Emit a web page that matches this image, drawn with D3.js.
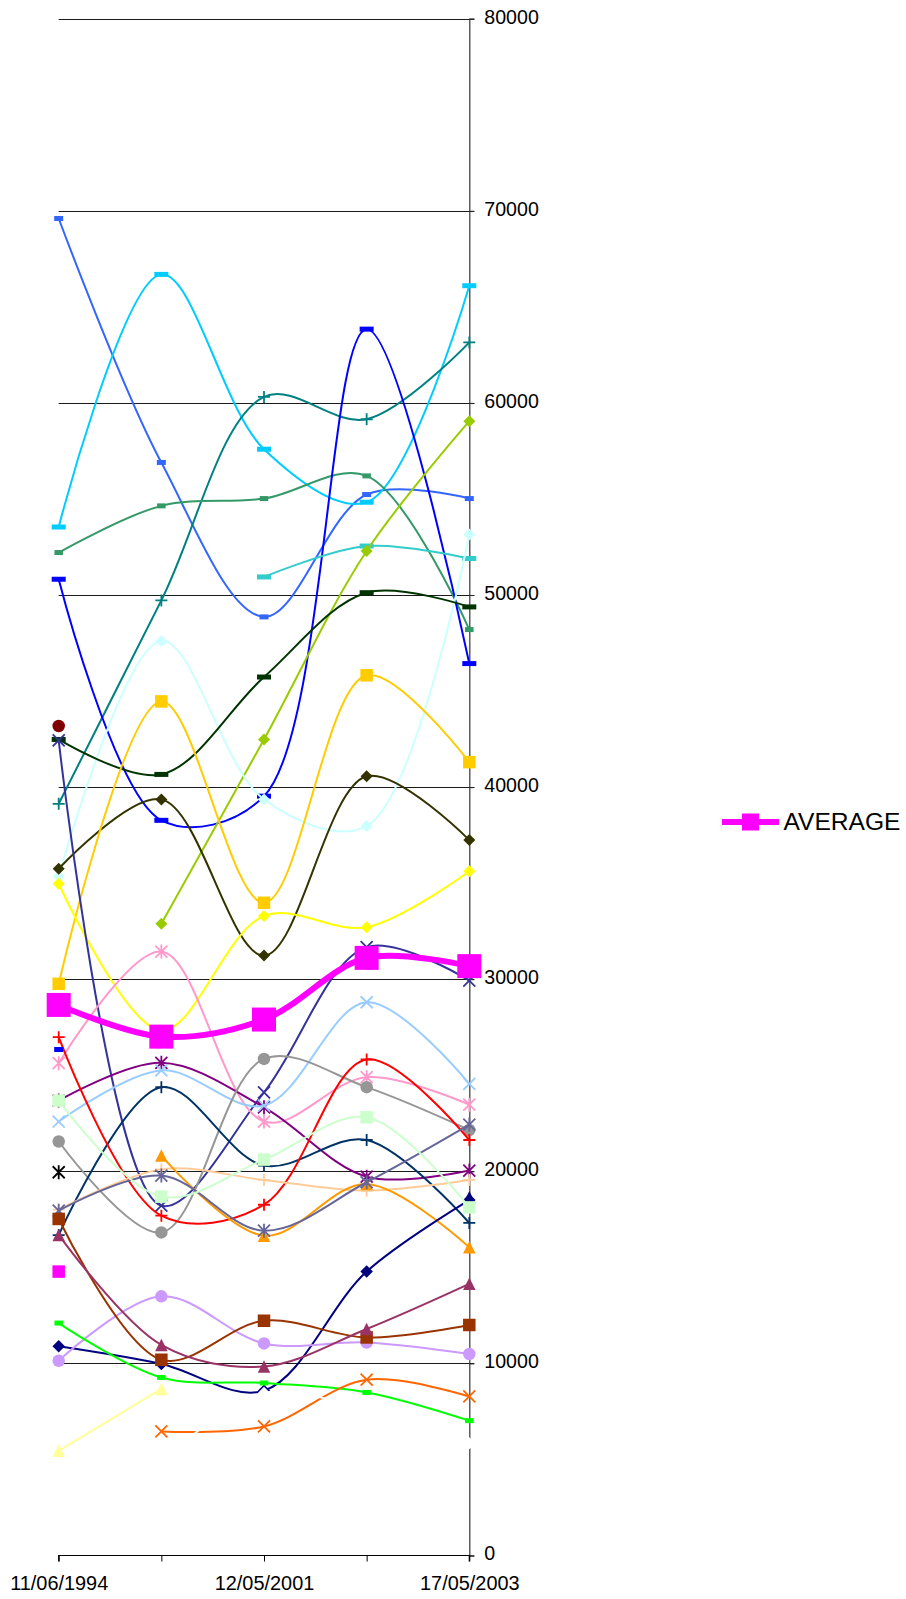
<!DOCTYPE html>
<html>
<head>
<meta charset="utf-8">
<script src="https://cdn.jsdelivr.net/npm/d3@7"></script>
<style>
  html, body { margin: 0; padding: 0; background: #fff; }
  svg { display: block; }
  text { font-family: "Liberation Sans", Arial, Helvetica, sans-serif; fill: #000; }
</style>
</head>
<body>
<svg id="chart" width="906" height="1599"></svg>
<script>
// ---- data -------------------------------------------------------------
// five polling dates; only every second one carries a label
const categories = [0, 1, 2, 3, 4];
const tickLabels = ["11/06/1994", "", "12/05/2001", "", "17/05/2003"];
const valueTicks = [0, 10000, 20000, 30000, 40000, 50000, 60000, 70000, 80000];

const royalBlue   = [69600, 56900, 48860, 55230, 55020];
const skyCyan     = [53540, 66690, 57590, 54830, 66100];
const tealPlus    = [39130, 49720, 60310, 59150, 63150];
const seaGreen    = [52210, 54640, 55020, 56200, 48200];
const pureBlue    = [50820, 38270, 39530, 63840, 46430];
const turquoise   = [null, null, 50940, 52550, 51900];
const limeDiamond = [null, 32890, 42480, 52290, 59050];
const paleCyan    = [35350, 47600, 39360, 37970, 53150];
const forestDash  = [42480, 40660, 45730, 50120, 49380];
const oliveDiamond= [35750, 39360, 31230, 40560, 37240];
const goldSquare  = [29760, 44460, 33980, 45820, 41300];
const yellowDiamond=[34970, 27330, 33290, 32710, 35620];
const maroonDot   = [43180, null, null, null, null];
const indigoCross = [42430, 18210, 24110, 31670, 29930];
const pinkStar    = [25630, 31440, 22590, 24900, 23470];
const purpleStar  = [23680, 25650, 23330, 19720, 20040];
const paleBlueX   = [22590, 25250, 23420, 28800, 24550];
const greyDot     = [21550, 16820, 25850, 24380, 22150];
const deepNavyPlus= [16680, 24380, 20300, 21630, 17310];
const redPlus     = [26980, 17690, 18260, 25820, 21630];
const blueSingle  = [26340, null, null, null, null];
const blackStar   = [19950, null, null, null, null];
const peachPlus   = [18000, 20100, 19550, 18990, 19550];
const orangeTri   = [null, 20820, 16650, 19340, 16040];
const slateStar   = [17950, 19780, 16910, 19430, 22430];
const navyDiamond = [10890, 9970, 8580, 14780, 18500];
const navyTri     = [null, null, null, null, 18650];
const mintSquare  = [23680, 18680, 20610, 22810, 18120];
const magentaSingle=[14780, null, null, null, null];
const lilacDot    = [10140, 13490, 11040, 11090, 10490];
const brownSquare = [17520, 10190, 12220, 11350, 12000];
const plumTri     = [16690, 10960, 9840, 11790, 14140];
const greenDash   = [12100, 9270, 8980, 8490, 7020];
const orangeX     = [null, 6460, 6720, 9150, 8280];
const lemonTri    = [5450, 8670, null, null, null];
const whiteSeries = [null, 4900, 8470, 7550, 5840];
const average     = [28660, 27010, 27900, 31110, 30680];

// ---- series styling (drawn in this order) -------------------------------
const seriesList = [
  { values: royalBlue,    color: "#3366FF", marker: "dash",     size: 9 },
  { values: skyCyan,      color: "#00CCFF", marker: "dash",     size: 14 },
  { values: tealPlus,     color: "#008080", marker: "plus",     size: 12 },
  { values: seaGreen,     color: "#339966", marker: "dash",     size: 8.5 },
  { values: pureBlue,     color: "#0000FF", marker: "dash",     size: 14 },
  { values: turquoise,    color: "#33CCCC", marker: "dash",     size: 14 },
  { values: limeDiamond,  color: "#99CC00", marker: "diamond",  size: 12 },
  { values: paleCyan,     color: "#CCFFFF", marker: "diamond",  size: 12 },
  { values: forestDash,   color: "#003300", marker: "dash",     size: 14 },
  { values: oliveDiamond, color: "#333300", marker: "diamond",  size: 12 },
  { values: goldSquare,   color: "#FFCC00", marker: "square",   size: 12.5 },
  { values: yellowDiamond,color: "#FFFF00", marker: "diamond",  size: 12 },
  { values: maroonDot,    color: "#800000", marker: "circle",   size: 12.5 },
  { values: indigoCross,  color: "#333399", marker: "x",        size: 12 },
  { values: pinkStar,     color: "#FF99CC", marker: "asterisk", size: 12 },
  { values: purpleStar,   color: "#800080", marker: "asterisk", size: 12 },
  { values: paleBlueX,    color: "#99CCFF", marker: "x",        size: 12 },
  { values: greyDot,      color: "#969696", marker: "circle",   size: 12.5 },
  { values: deepNavyPlus, color: "#003366", marker: "plus",     size: 12 },
  { values: redPlus,      color: "#FF0000", marker: "plus",     size: 12 },
  { values: blueSingle,   color: "#0000FF", marker: "dash",     size: 9 },
  { values: blackStar,    color: "#000000", marker: "asterisk", size: 12 },
  { values: peachPlus,    color: "#FFCC99", marker: "plus",     size: 12 },
  { values: orangeTri,    color: "#FF9900", marker: "triangle", size: 12.5 },
  { values: slateStar,    color: "#666699", marker: "asterisk", size: 12 },
  { values: navyDiamond,  color: "#000080", marker: "diamond",  size: 12.5 },
  { values: navyTri,      color: "#000080", marker: "triangle", size: 12.5 },
  { values: mintSquare,   color: "#CCFFCC", marker: "square",   size: 12.5 },
  { values: magentaSingle,color: "#FF00FF", marker: "square",   size: 12.5 },
  { values: lilacDot,     color: "#CC99FF", marker: "circle",   size: 12.5 },
  { values: brownSquare,  color: "#993300", marker: "square",   size: 12.5 },
  { values: plumTri,      color: "#993366", marker: "triangle", size: 12.5 },
  { values: greenDash,    color: "#00FF00", marker: "dash",     size: 8.5 },
  { values: orangeX,      color: "#FF6600", marker: "x",        size: 12 },
  { values: lemonTri,     color: "#FFFF99", marker: "triangle", size: 12.5 },
  { values: whiteSeries,  color: "#FFFFFF", marker: "diamond",  size: 12 },
  { values: average,      color: "#FF00FF", marker: "square",   size: 24, width: 6, name: "AVERAGE" }
];

// ---- layout -------------------------------------------------------------
const svg = d3.select("#chart");
const plot = { left: 58.7, right: 469.3, top: 18.7, bottom: 1555.5 };

const x = d3.scalePoint().domain(categories).range([plot.left, plot.right]);
const y = d3.scaleLinear().domain([0, 80000]).range([plot.bottom, plot.top]);

// gridlines (with the outward tick on the right)
svg.append("g")
  .selectAll("line")
  .data(valueTicks.filter(v => v > 0))
  .join("line")
  .attr("x1", plot.left).attr("x2", plot.right + 5)
  .attr("y1", d => Math.round(y(d)) + 0.5).attr("y2", d => Math.round(y(d)) + 0.5)
  .attr("stroke", "#1a1a1a").attr("stroke-width", 1);

// value axis on the right
const yAxis = d3.axisRight(y).tickValues(valueTicks).tickSize(5).tickPadding(10)
  .tickFormat(d3.format("d"));
const yAxisG = svg.append("g")
  .attr("transform", `translate(${plot.right},0)`)
  .call(yAxis);
yAxisG.select(".domain").attr("stroke", "#444").attr("stroke-width", 1.3);
yAxisG.selectAll(".tick line").attr("stroke", "#222");
yAxisG.selectAll(".tick text")
  .attr("font-size", "19.6px")
  .attr("dy", "0.22em")
  .style("font-family", "'Liberation Sans', Arial, sans-serif");

// category axis along the bottom
const xAxis = d3.axisBottom(x).tickSize(6).tickPadding(14)
  .tickFormat((d, i) => tickLabels[i]);
const xAxisG = svg.append("g")
  .attr("transform", `translate(0,${plot.bottom})`)
  .call(xAxis);
xAxisG.select(".domain").attr("stroke", "#000").attr("stroke-width", 1.2)
  .attr("d", `M${plot.left},6V0H${plot.right}V6`);
xAxisG.selectAll(".tick line").attr("stroke", "#000");
xAxisG.selectAll(".tick text")
  .attr("font-size", "19.9px")
  .style("font-family", "'Liberation Sans', Arial, sans-serif");

// ---- markers -------------------------------------------------------------
function drawMarker(g, type, cx, cy, s, color) {
  const h = s / 2;
  switch (type) {
    case "dash":
      g.append("rect").attr("x", cx - h).attr("y", cy - 2.5)
        .attr("width", s).attr("height", 5).attr("fill", color);
      break;
    case "square":
      g.append("rect").attr("x", cx - h).attr("y", cy - h)
        .attr("width", s).attr("height", s).attr("fill", color);
      break;
    case "diamond":
      g.append("path")
        .attr("d", `M${cx},${cy - h}L${cx + h},${cy}L${cx},${cy + h}L${cx - h},${cy}Z`)
        .attr("fill", color);
      break;
    case "triangle":
      g.append("path")
        .attr("d", `M${cx},${cy - h}L${cx + h},${cy + h}L${cx - h},${cy + h}Z`)
        .attr("fill", color);
      break;
    case "circle":
      g.append("circle").attr("cx", cx).attr("cy", cy).attr("r", h).attr("fill", color);
      break;
    case "x":
      g.append("path")
        .attr("d", `M${cx - h},${cy - h}L${cx + h},${cy + h}M${cx + h},${cy - h}L${cx - h},${cy + h}`)
        .attr("stroke", color).attr("stroke-width", 1.8).attr("fill", "none");
      break;
    case "asterisk":
      g.append("path")
        .attr("d", `M${cx - h},${cy - h}L${cx + h},${cy + h}M${cx + h},${cy - h}L${cx - h},${cy + h}M${cx},${cy - h - 1}L${cx},${cy + h + 1}`)
        .attr("stroke", color).attr("stroke-width", 1.8).attr("fill", "none");
      break;
    case "plus":
      g.append("path")
        .attr("d", `M${cx - h},${cy}L${cx + h},${cy}M${cx},${cy - h}L${cx},${cy + h}`)
        .attr("stroke", color).attr("stroke-width", 1.8).attr("fill", "none");
      break;
  }
}

// ---- series ---------------------------------------------------------------
const line = d3.line()
  .defined(d => d.v != null)
  .x(d => x(d.c))
  .y(d => y(d.v))
  .curve(d3.curveCatmullRom.alpha(0.5));

const seriesG = svg.append("g");
seriesList.forEach(s => {
  const pts = categories.map((c, i) => ({ c, v: s.values[i] }));
  const g = seriesG.append("g");
  g.append("path")
    .attr("d", line(pts))
    .attr("fill", "none")
    .attr("stroke", s.color)
    .attr("stroke-width", s.width || 2)
    .attr("stroke-linejoin", "round");
  pts.filter(p => p.v != null).forEach(p =>
    drawMarker(g, s.marker, x(p.c), y(p.v), s.size, s.color));
});

// ---- legend ---------------------------------------------------------------
const avg = seriesList[seriesList.length - 1];
const legend = svg.append("g").attr("transform", "translate(722,822)");
legend.append("line").attr("x1", 0).attr("x2", 57).attr("y1", 0).attr("y2", 0)
  .attr("stroke", avg.color).attr("stroke-width", 6);
drawMarker(legend, "square", 28.5, 0, 17, avg.color);
legend.append("text").attr("x", 61.5).attr("y", 0).attr("dy", "0.36em")
  .attr("font-size", "23px")
  .attr("textLength", 117).attr("lengthAdjust", "spacingAndGlyphs")
  .text(avg.name);
</script>
</body>
</html>
